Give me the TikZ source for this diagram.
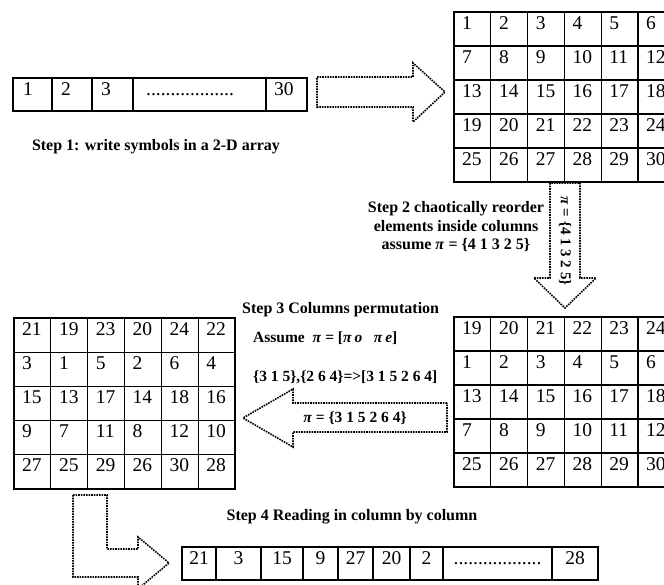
\documentclass[tikz,border=0pt]{standalone}
\usepackage{fontspec}
\setmainfont{Liberation Serif}
\begin{document}
\begin{tikzpicture}[x=1pt,y=-1pt,
  tbl/.style={line width=1.3pt, black},
  num/.style={font=\fontsize{19.5}{19.5}\selectfont, inner sep=0pt, anchor=base west},
  numc/.style={font=\fontsize{19.5}{19.5}\selectfont, inner sep=0pt, anchor=base},
  steptxt/.style={font=\bfseries\fontsize{16}{18.5}\selectfont, inner sep=0pt},
  smalltxt/.style={font=\bfseries\fontsize{15.5}{15.5}\selectfont, inner sep=0pt},
  darrow/.style={densely dotted, line width=1.6pt, line join=miter},
]
\useasboundingbox (0,0) rectangle (664,584);
\clip (0,0) rectangle (664,584);

% ---------- Step 1: 1-D array ----------
\draw[tbl] (13,78) rectangle (307,111);
\foreach \x in {52,92,133,266} \draw[tbl] (\x,78) -- (\x,111);
\node[num] (a1) at (23,95) {1};
\node[num] (a2) at (61,95) {2};
\node[num] (a3) at (101,95) {3};
\node[num] (a4) at (146,95) {..................};
\node[num] (a5) at (274,95) {30};
\node[steptxt] (s1) at (156,147) {Step 1: write symbols in a 2-D array};

% ---------- arrow 1 ----------
\draw[darrow] (317,77) -- (413,77) -- (413,63) -- (445,92) -- (413,122) -- (413,107) -- (317,107) -- cycle;

% ---------- top table ----------
\draw[tbl] (454,12) rectangle (674.8,182);
\foreach \c in {1,...,5} \draw[tbl] ({454+36.8*\c},12) -- ++(0,170);
\foreach \r in {1,...,4} \draw[tbl] (454,{12+34*\r}) -- ++(220.8,0);
\foreach \r in {0,...,4} {
  \foreach \c in {0,...,5} {
    \pgfmathtruncatemacro\v{6*\r+\c+1}
    \node[num] (T-\r-\c) at ({454+36.8*\c+8},{12+34*\r+17}) {\v};
  }
}

% ---------- arrow 2 (down) ----------
\draw[darrow] (550,183) -- (550,278) -- (534,278) -- (565,308) -- (596,278) -- (580,278) -- (580,183) -- cycle;
\node[smalltxt, rotate=-90, font=\bfseries\fontsize{15}{15}\selectfont] (p2) at (565,241) {\textit{π} = \{4 1 3 2 5\}};
\node[steptxt, align=center] (s2) at (456,227) {Step 2 chaotically reorder\\elements inside columns\\assume \textit{π} = \{4 1 3 2 5\}};

% ---------- bottom-right table ----------
\draw[tbl] (454,317) rectangle (674.8,487);
\foreach \c in {1,...,5} \draw[tbl] ({454+36.8*\c},317) -- ++(0,170);
\foreach \r in {1,...,4} \draw[tbl] (454,{317+34*\r}) -- ++(220.8,0);
\foreach \p [count=\r from 0] in {4,1,3,2,5} {
  \foreach \c in {0,...,5} {
    \pgfmathtruncatemacro\v{6*(\p-1)+\c+1}
    \node[num] (B-\r-\c) at ({454+36.8*\c+8},{317+34*\r+17}) {\v};
  }
}

% ---------- Step 3 text ----------
\node[steptxt, anchor=west] (s3) at (242,310) {Step 3 Columns permutation};
\node[smalltxt, anchor=west] (s3b) at (253,338) {Assume\ \ \textit{π} = [\textit{π}\,\textit{o}\ \ \ \textit{π}\,\textit{e}]};
\node[smalltxt, anchor=west] (s3c) at (253,377) {\{3 1 5\},\{2 6 4\}=>[3 1 5 2 6 4]};

% ---------- arrow 3 (left) ----------
\draw[darrow] (447,403) -- (293,403) -- (293,389) -- (243,418) -- (293,447) -- (293,432) -- (447,432) -- cycle;
\node[smalltxt] (p3) at (355,418) {\textit{π} = \{3 1 5 2 6 4\}};

% ---------- left table ----------
\draw[tbl] (14,318) rectangle (235,489);
\foreach \c in {1,...,5} \draw[tbl] ({14+36.83*\c},318) -- ++(0,171);
\foreach \r in {1,...,4} \draw[tbl] (14,{318+34.2*\r}) -- ++(221,0);
\foreach \row [count=\r from 0] in {{21,19,23,20,24,22},{3,1,5,2,6,4},{15,13,17,14,18,16},{9,7,11,8,12,10},{27,25,29,26,30,28}} {
  \foreach \v [count=\c from 0] in \row {
    \node[num] (L-\r-\c) at ({14+36.83*\c+8},{318+34.2*\r+17}) {\v};
  }
}

% ---------- arrow 4 (L-shape) ----------
\draw[darrow] (73,495) -- (107,495) -- (107,549) -- (138,549) -- (138,537) -- (169,563) -- (138,589) -- (138,577) -- (73,577) -- cycle;

% ---------- Step 4 ----------
\node[steptxt] (s4) at (352,517) {Step 4 Reading in column by column};
\draw[tbl] (182,547) rectangle (598,580);
\foreach \x in {216,261,303,338,373,410,443,552} \draw[tbl] (\x,547) -- (\x,580);
\node[numc] (r1) at (199,564) {21};
\node[numc] (r2) at (238.5,564) {3};
\node[numc] (r3) at (282,564) {15};
\node[numc] (r4) at (320.5,564) {9};
\node[numc] (r5) at (355.5,564) {27};
\node[numc] (r6) at (391.5,564) {20};
\node[numc] (r7) at (426.5,564) {2};
\node[numc] (r8) at (497.5,564) {..................};
\node[numc] (r9) at (575,564) {28};
\end{tikzpicture}
\end{document}
